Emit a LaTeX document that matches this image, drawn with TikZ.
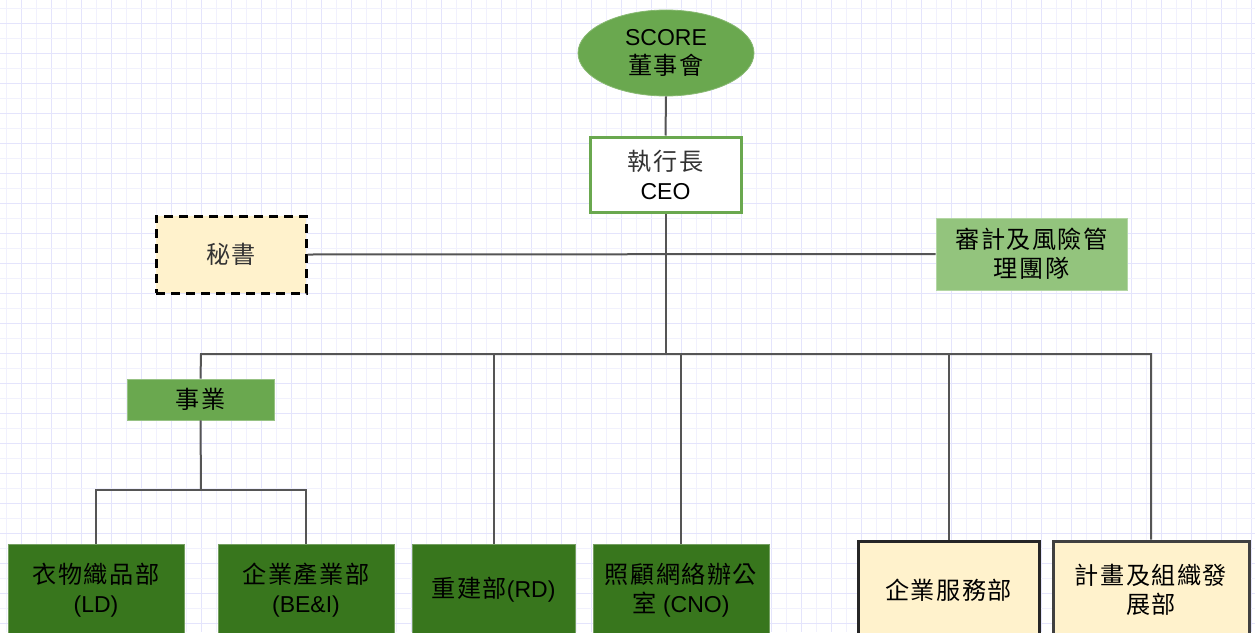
\documentclass[tikz,border=0pt]{standalone}
\usepackage{fontspec}
\setmainfont{Liberation Sans}
\newfontfamily\cjk{Noto Sans CJK TC}[Scale=1.05, LetterSpace=6]
\usetikzlibrary{shapes.geometric}
\definecolor{gridA}{HTML}{E4E4FC}
\definecolor{gridB}{HTML}{F1F1FD}
\definecolor{midgreen}{HTML}{6AA84F}
\definecolor{lightgreen}{HTML}{93C47D}
\definecolor{darkgreen}{HTML}{38761D}
\definecolor{cream}{HTML}{FFF2CC}
\definecolor{wire}{HTML}{555555}
\begin{document}
\begin{tikzpicture}[x=1pt,y=-1pt,
  txt/.style={font=\fontsize{23}{29}\selectfont, align=center, text=black},
  box/.style={rectangle, inner sep=0pt, txt},
  wire/.style={draw=wire, line width=2pt},
  greenbox/.style={box, fill=darkgreen, draw=darkgreen!70!white, line width=0.8pt},
  creambox/.style={box, fill=cream, draw=black!85, line width=3pt}]
\useasboundingbox (0,0) rectangle (1255,632);
\clip (0,0) rectangle (1255,632);
\fill[white] (0,0) rectangle (1255,632);
% grid
\foreach \i in {0,...,41} {
  \draw[gridB, line width=1.5pt] ({6.7+30*\i},0) -- ({6.7+30*\i},632);
  \draw[gridA, line width=1.5pt] ({21.7+30*\i},0) -- ({21.7+30*\i},632);
}
\foreach \j in {0,...,21} {
  \draw[gridB, line width=1.5pt] (0,{8.3+30*\j}) -- (1255,{8.3+30*\j});
  \draw[gridA, line width=1.5pt] (0,{23.3+30*\j}) -- (1255,{23.3+30*\j});
}
% nodes
\node[ellipse, fill=midgreen, draw=midgreen!80!white, line width=0.8pt, minimum width=176pt, minimum height=86pt, inner sep=0pt, txt] (score) at (666,53) {SCORE\\{\cjk 董事會}};
\node[box, fill=white, draw=midgreen, line width=3pt, minimum width=151pt, minimum height=75pt] (ceo) at (665.5,174.5) {\textcolor{black!80}{\cjk 執行長}\\CEO};
\node[box, fill=cream, draw=black, line width=3pt, dash pattern=on 9pt off 6pt, minimum width=150pt, minimum height=77pt] (sec) at (231,254.5) {\textcolor{black!80}{\cjk 秘書}};
\node[box, fill=lightgreen, draw=lightgreen!70!white, line width=0.8pt, minimum width=191pt, minimum height=72pt] (audit) at (1031.5,254) {{\cjk 審計及風險管}\\{\cjk 理團隊}};
\node[box, fill=midgreen, draw=midgreen!70!white, line width=0.8pt, minimum width=147pt, minimum height=41pt] (biz) at (200.5,399.5) {\cjk 事業};
\node[greenbox, minimum width=176pt, minimum height=92pt] (ld) at (96,590) {{\cjk 衣物織品部}\\(LD)};
\node[greenbox, minimum width=176pt, minimum height=92pt] (be) at (306,590) {{\cjk 企業產業部}\\(BE\&I)};
\node[greenbox, minimum width=163pt, minimum height=92pt] (rd) at (493.5,590) {{\cjk 重建部}(RD)};
\node[greenbox, minimum width=176pt, minimum height=92pt] (cno) at (681,590) {{\cjk 照顧網絡辦公}\\{\cjk 室} (CNO)};
\node[creambox, minimum width=181pt, minimum height=98pt] (svc) at (948.5,590) {\cjk 企業服務部};
\node[creambox, draw=black!75, minimum width=196pt, minimum height=98pt] (plan) at (1151,590) {{\cjk 計畫及組織發}\\{\cjk 展部}};
% connectors
\coordinate (busL) at (201,354);
\coordinate (busR) at (1151,354);
\coordinate (sub) at (201,490);
\draw[wire] (score.south) -- (ceo.north);
\draw[wire] (ceo.south) -- (ceo.south |- busL);
\draw[wire] (sec.east) -- (audit.west);
\draw[wire] (biz.north) -- (busL) -- (busR) -- (plan.north);
\draw[wire] (rd.north) -- (rd.north |- busL);
\draw[wire] (cno.north) -- (cno.north |- busL);
\draw[wire] (svc.north) -- (svc.north |- busL);
\draw[wire] (biz.south) -- (sub);
\draw[wire] (ld.north) -- (ld.north |- sub) -- (be.north |- sub) -- (be.north);
\end{tikzpicture}
\end{document}
